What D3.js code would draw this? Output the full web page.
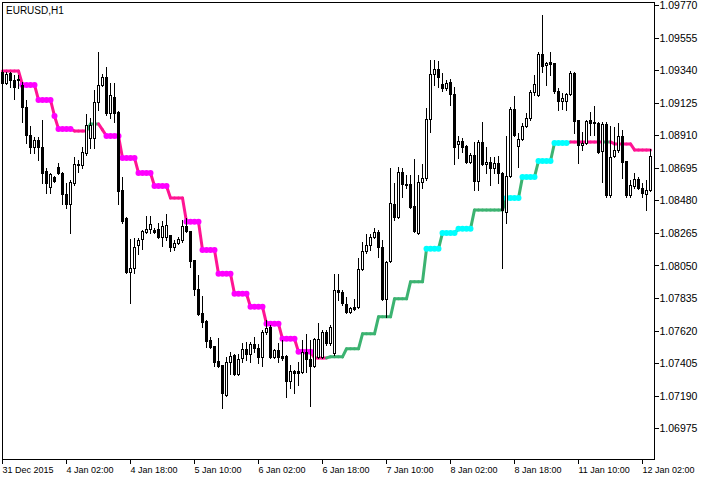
<!DOCTYPE html>
<html><head><meta charset="utf-8">
<script src="https://cdn.jsdelivr.net/npm/d3@7"></script>
<style>
body{margin:0;background:#fff;}
svg{display:block;}
text{font-family:"Liberation Sans",Arial,sans-serif;font-size:9px;fill:#000;}
.yax text{font-size:10.5px;}
.title{font-size:10px;}
</style>
</head><body>
<svg id="chart" width="706" height="480"></svg>
<script>
const symbolLabel = "EURUSD,H1";
const xTickBars = [0,16,32,48,64,80,96,112,128,144,160];
const xTickLabels = ["31 Dec 2015","4 Jan 02:00","4 Jan 18:00","5 Jan 10:00","6 Jan 02:00","6 Jan 18:00","7 Jan 10:00","8 Jan 02:00","8 Jan 18:00","11 Jan 10:00","12 Jan 02:00"];
const yTicks = [1.09770,1.09555,1.09340,1.09125,1.08910,1.08695,1.08480,1.08265,1.08050,1.07835,1.07620,1.07405,1.07190,1.06975];

const opens = [1.09328,1.09255,1.09321,1.09275,1.09282,1.09242,1.09097,1.08912,1.08833,1.08879,
1.08833,1.08674,1.08569,1.08635,1.08701,1.08661,1.08523,1.08457,1.08595,1.08721,
1.08714,1.08793,1.08892,1.08892,1.09130,1.09242,1.09295,1.09057,1.09163,1.09064,
1.08549,1.08364,1.08008,1.08034,1.08186,1.08226,1.08272,1.08292,1.08285,1.08292,
1.08239,1.08239,1.08252,1.08173,1.08199,1.08219,1.08311,1.08278,1.08087,1.07896,
1.07737,1.07684,1.07559,1.07519,1.07420,1.07394,1.07196,1.07414,1.07460,1.07335,
1.07440,1.07500,1.07467,1.07533,1.07506,1.07447,1.07612,1.07645,1.07447,1.07493,
1.07453,1.07453,1.07288,1.07354,1.07354,1.07348,1.07480,1.07434,1.07387,1.07447,
1.07447,1.07612,1.07539,1.07473,1.07889,1.07876,1.07797,1.07744,1.07777,1.07777,
1.08028,1.08146,1.08186,1.08239,1.08272,1.08173,1.07830,1.08080,1.08457,1.08371,
1.08668,1.08582,1.08589,1.08443,1.08265,1.08602,1.08628,1.09018,1.09315,1.09348,
1.09249,1.09222,1.09262,1.09183,1.08853,1.08872,1.08839,1.08734,1.08780,1.08608,
1.08866,1.08721,1.08734,1.08694,1.08727,1.08661,1.08404,1.08641,1.09084,1.08839,
1.08886,1.08971,1.09024,1.09196,1.09176,1.09447,1.09374,1.09394,1.09387,1.09202,
1.09136,1.09136,1.09183,1.09321,1.09011,1.08846,1.08859,1.09011,1.08998,1.08991,
1.08806,1.08985,1.08516,1.08773,1.08813,1.08905,1.08740,1.08516,1.08575,1.08622,
1.08562,1.08523,1.08549];

const highs = [1.09341,1.09328,1.09328,1.09308,1.09308,1.09262,1.09143,1.08971,1.08899,1.08899,
1.09011,1.08694,1.08661,1.08641,1.08727,1.08668,1.08595,1.08615,1.08767,1.08747,
1.08833,1.09051,1.09024,1.09209,1.09460,1.09315,1.09361,1.09255,1.09255,1.09070,
1.08635,1.08371,1.08226,1.08232,1.08232,1.08285,1.08377,1.08377,1.08298,1.08331,
1.08344,1.08391,1.08252,1.08219,1.08239,1.08351,1.08364,1.08278,1.08087,1.07988,
1.07849,1.07691,1.07579,1.07519,1.07572,1.07394,1.07447,1.07480,1.07467,1.07467,
1.07539,1.07546,1.07546,1.07579,1.07533,1.07625,1.07691,1.07658,1.07500,1.07539,
1.07559,1.07460,1.07394,1.07361,1.07414,1.07559,1.07599,1.07559,1.07572,1.07671,
1.07625,1.07625,1.07658,1.07995,1.07995,1.07889,1.07843,1.07777,1.07830,1.08100,
1.08206,1.08259,1.08259,1.08298,1.08285,1.08219,1.08080,1.08694,1.08595,1.08701,
1.08694,1.08648,1.08648,1.08754,1.08648,1.08721,1.09090,1.09407,1.09407,1.09400,
1.09321,1.09275,1.09282,1.09229,1.08905,1.08892,1.08846,1.08793,1.08866,1.08879,
1.08998,1.08833,1.08767,1.08767,1.08773,1.08668,1.08905,1.09097,1.09169,1.08925,
1.08991,1.09057,1.09209,1.09308,1.09460,1.09704,1.09394,1.09460,1.09387,1.09222,
1.09189,1.09189,1.09334,1.09328,1.09011,1.08932,1.09011,1.09064,1.09103,1.08998,
1.08998,1.08998,1.08971,1.08965,1.08991,1.08945,1.08740,1.08615,1.08661,1.08635,
1.08595,1.08615,1.08820];

const lows = [1.09249,1.09249,1.09229,1.09150,1.09222,1.08998,1.08859,1.08793,1.08793,1.08747,
1.08595,1.08529,1.08529,1.08602,1.08655,1.08457,1.08430,1.08265,1.08582,1.08668,
1.08694,1.08780,1.08826,1.08826,1.09077,1.09235,1.09044,1.09024,1.08998,1.08457,
1.08331,1.08001,1.07803,1.08001,1.08127,1.08160,1.08265,1.08265,1.08265,1.08232,
1.08179,1.08219,1.08146,1.08153,1.08193,1.08206,1.08272,1.08041,1.07856,1.07724,
1.07645,1.07513,1.07506,1.07387,1.07381,1.07110,1.07189,1.07335,1.07328,1.07328,
1.07414,1.07427,1.07414,1.07480,1.07407,1.07387,1.07599,1.07440,1.07440,1.07414,
1.07427,1.07183,1.07242,1.07209,1.07262,1.07341,1.07348,1.07123,1.07381,1.07440,
1.07440,1.07526,1.07526,1.07460,1.07823,1.07790,1.07737,1.07737,1.07757,1.07770,
1.08021,1.08133,1.08153,1.08232,1.08107,1.07823,1.07711,1.08074,1.08351,1.08364,
1.08503,1.08562,1.08430,1.08272,1.08259,1.08562,1.08615,1.08932,1.09242,1.09229,
1.09202,1.09209,1.09110,1.08721,1.08760,1.08800,1.08727,1.08727,1.08549,1.08549,
1.08714,1.08661,1.08582,1.08661,1.08595,1.08034,1.08331,1.08635,1.08905,1.08701,
1.08879,1.08965,1.09011,1.09176,1.09169,1.09328,1.09242,1.09308,1.09189,1.09077,
1.09084,1.09077,1.09176,1.08925,1.08727,1.08813,1.08853,1.08912,1.08912,1.08793,
1.08602,1.08503,1.08503,1.08767,1.08800,1.08628,1.08503,1.08503,1.08562,1.08556,
1.08503,1.08417,1.08542];

const closes = [1.09255,1.09315,1.09275,1.09229,1.09275,1.09097,1.08912,1.08833,1.08879,1.08833,
1.08661,1.08595,1.08655,1.08608,1.08661,1.08523,1.08457,1.08602,1.08721,1.08714,
1.08800,1.08978,1.08978,1.09130,1.09242,1.09295,1.09057,1.09176,1.09057,1.08542,
1.08344,1.08008,1.08034,1.08173,1.08219,1.08278,1.08292,1.08325,1.08272,1.08239,
1.08311,1.08318,1.08173,1.08199,1.08226,1.08311,1.08278,1.08080,1.07896,1.07731,
1.07678,1.07552,1.07513,1.07414,1.07387,1.07209,1.07414,1.07453,1.07335,1.07434,
1.07500,1.07467,1.07533,1.07506,1.07447,1.07612,1.07638,1.07447,1.07493,1.07447,
1.07440,1.07288,1.07354,1.07341,1.07341,1.07480,1.07434,1.07387,1.07566,1.07566,
1.07612,1.07539,1.07645,1.07889,1.07876,1.07803,1.07744,1.07770,1.07764,1.08028,
1.08146,1.08186,1.08239,1.08272,1.08173,1.07830,1.08074,1.08463,1.08371,1.08668,
1.08589,1.08589,1.08437,1.08278,1.08602,1.08628,1.09018,1.09315,1.09348,1.09295,
1.09222,1.09255,1.09183,1.08833,1.08872,1.08833,1.08734,1.08780,1.08608,1.08866,
1.08721,1.08734,1.08694,1.08727,1.08661,1.08417,1.08641,1.09084,1.08912,1.08886,
1.08971,1.09024,1.09196,1.09249,1.09447,1.09367,1.09387,1.09381,1.09202,1.09136,
1.09156,1.09183,1.09321,1.09004,1.08846,1.08859,1.09004,1.08991,1.08991,1.08800,
1.08985,1.08516,1.08767,1.08813,1.08905,1.08734,1.08516,1.08582,1.08622,1.08562,
1.08529,1.08549,1.08773];

// step indicator value per bar
const stepLevel = [1.09334,1.09334,1.09334,1.09334,1.09334,
1.09242,1.09242,1.09242,1.09242,
1.09143,1.09143,1.09143,1.09143,
1.09037,
1.08952,1.08952,1.08952,1.08952,
1.08938,1.08938,1.08938,1.08938,
1.08985,1.08985,1.08985,
1.08945,
1.08905,1.08905,1.08905,1.08905,
1.08760,1.08760,1.08760,1.08760,
1.08661,1.08661,1.08661,1.08661,
1.08575,1.08575,1.08575,1.08575,
1.08496,1.08496,1.08496,1.08496,
1.08338,1.08338,1.08338,1.08338,
1.08153,1.08153,1.08153,1.08153,
1.07995,1.07995,1.07995,1.07995,
1.07863,1.07863,1.07863,1.07863,
1.07777,1.07777,1.07777,1.07777,
1.07665,1.07665,1.07665,1.07665,
1.07566,1.07566,1.07566,1.07566,
1.07480,1.07480,1.07480,1.07480,
1.07440,1.07440,1.07440,1.07440,
1.07447,1.07447,1.07447,1.07447,
1.07500,1.07500,1.07500,1.07500,
1.07599,1.07599,1.07599,1.07599,
1.07711,1.07711,1.07711,1.07711,
1.07830,1.07830,1.07830,1.07830,
1.07942,1.07942,1.07942,1.07942,
1.08160,1.08160,1.08160,1.08160,
1.08265,1.08265,1.08265,1.08265,
1.08292,1.08292,1.08292,1.08292,
1.08417,1.08417,1.08417,1.08417,1.08417,1.08417,1.08417,1.08417,
1.08496,1.08496,1.08496,1.08496,
1.08635,1.08635,1.08635,1.08635,
1.08740,1.08740,1.08740,1.08740,
1.08859,1.08859,1.08859,1.08859,
1.08866,1.08866,1.08866,1.08866,1.08866,1.08866,1.08866,1.08866,1.08866,1.08866,1.08866,
1.08853,1.08853,1.08853,1.08853,1.08853,
1.08813,1.08813,1.08813,1.08813,1.08813];

// 1 = up trend (green), 0 = down trend (pink)
const trendUp = [0,0,0,0,0,0,0,0,0,0, 0,0,0,0,0,0,0,0,0,0, 0,0,1,1,1,0,0,0,0,0,
0,0,0,0,0,0,0,0,0,0, 0,0,0,0,0,0,0,0,0,0, 0,0,0,0,0,0,0,0,0,0,
0,0,0,0,0,0,0,0,0,0, 0,0,0,0,0,0,0,0,0,0, 0,0,1,1,1,1,1,1,1,1,
1,1,1,1,1,1,1,1,1,1, 1,1,1,1,1,1,1,1,1,1, 1,1,1,1,1,1,1,1,1,1,
1,1,1,1,1,1,1,1,1,1, 1,1,1,1,1,1,1,1,1,1, 1,1,1,0,0,0,0,0,0,0,
0,1,1];

// 1 = signal dot on the bar
const signalDot = [0,0,0,0,0,1,1,1,1,1, 1,1,1,1,1,1,1,1,0,0, 0,0,0,0,0,0,1,1,1,1,
1,1,1,1,1,1,1,1,1,1, 1,1,0,0,0,0,1,1,1,1, 1,1,1,1,1,1,1,1,1,1,
1,1,1,1,1,1,1,1,1,1, 1,1,1,1,1,1,1,1,0,0, 0,0,0,0,0,0,0,0,0,0,
0,0,0,0,0,0,0,0,0,0, 0,0,0,0,0,0,1,1,1,1, 1,1,1,1,1,1,1,1,0,0,
0,0,0,0,0,0,1,1,1,1, 1,1,1,1,1,1,1,1,1,1, 1,1,0,0,0,0,0,0,0,0,
0,0,0,0,0,0,0,0,0,0, 0,0,0];

const n = opens.length;
const svg = d3.select("#chart");
svg.append("rect").attr("width",706).attr("height",480).attr("fill","#fff");

const x = d3.scaleLinear().domain([0, n-1]).range([2, 2 + 4*(n-1)]);
const y = d3.scaleLinear().domain([1.06975, 1.09770]).range([428.3, 5]);

const COL_DOWN = "#ff1493", COL_UP = "#3cb371", DOT_DOWN = "#ff00ff", DOT_UP = "#00ffff";

// indicator line segments
const ind = svg.append("g");
ind.selectAll("line").data(d3.range(1, n)).join("line")
  .attr("x1", k => x(k-1)+0.5).attr("y1", k => y(stepLevel[k-1]))
  .attr("x2", k => x(k)+0.5).attr("y2", k => y(stepLevel[k]))
  .attr("stroke", k => trendUp[k] ? COL_UP : COL_DOWN)
  .attr("stroke-width", 3).attr("stroke-linecap","round");
ind.selectAll("circle").data(d3.range(n).filter(k => signalDot[k])).join("circle")
  .attr("cx", k => x(k)+0.5).attr("cy", k => y(stepLevel[k]))
  .attr("r", 3).attr("fill", k => trendUp[k] ? DOT_UP : DOT_DOWN);

// candles
const cg = svg.append("g").attr("shape-rendering","crispEdges");
const bars = d3.range(n);
cg.selectAll("line").data(bars).join("line")
  .attr("x1", k => Math.round(x(k))+0.5).attr("x2", k => Math.round(x(k))+0.5)
  .attr("y1", k => Math.round(y(highs[k]))).attr("y2", k => Math.round(y(lows[k]))+1)
  .attr("stroke","#000").attr("stroke-width",1);
cg.selectAll("path").data(bars).join("path")
  .attr("d", k => {
    const cx = Math.round(x(k));
    const t = Math.round(y(Math.max(opens[k], closes[k])));
    const b = Math.round(y(Math.min(opens[k], closes[k])));
    return `M${cx-0.5},${t+0.5}h2v${b-t}h-2Z`;
  })
  .attr("fill", k => closes[k] >= opens[k] ? "#fff" : "#000")
  .attr("stroke","#000").attr("stroke-width",1);

// frame
svg.append("rect").attr("x",2.5).attr("y",2.5).attr("width",652).attr("height",457)
  .attr("fill","none").attr("stroke","#000").attr("stroke-width",1).attr("shape-rendering","crispEdges");

// right price axis
const ya = svg.append("g").attr("class","yax").attr("transform","translate(654.5,0)")
  .call(d3.axisRight(y).tickValues(yTicks).tickSize(4).tickPadding(1).tickFormat(d3.format(".5f")));
ya.select(".domain").remove();
ya.selectAll("line").attr("shape-rendering","crispEdges");
ya.selectAll("text").attr("font-family",null).attr("font-size",null).attr("dy","0.34em");

// bottom time axis
const xa = svg.append("g").attr("transform","translate(0,459.5)")
  .call(d3.axisBottom(x).tickValues(xTickBars).tickSize(4).tickFormat((d,i) => xTickLabels[i]));
xa.select(".domain").remove();
xa.selectAll("line").attr("shape-rendering","crispEdges");
xa.selectAll("text").attr("font-family",null).attr("font-size",null)
  .attr("text-anchor","start").attr("x",0).attr("y",13.5).attr("dy",0);

svg.append("text").attr("class","title").attr("x",6).attr("y",13.5).text(symbolLabel);
</script>
</body></html>
